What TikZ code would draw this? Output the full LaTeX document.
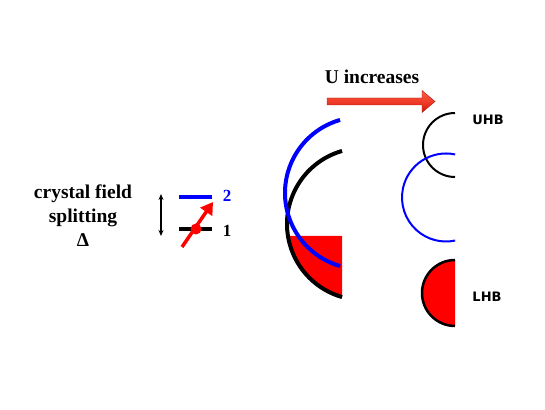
\documentclass[tikz,border=0pt]{standalone}
\usepackage{fontspec}
\setmainfont{Liberation Serif}
\newfontfamily\bandfont{DejaVu Sans}
\usetikzlibrary{arrows.meta}
\definecolor{arrowtop}{RGB}{245,95,70}
\definecolor{arrowmid}{RGB}{240,60,40}
\definecolor{arrowbot}{RGB}{205,25,15}
\tikzset{
  bigtext/.style={font=\bfseries\fontsize{19.5}{24}\selectfont},
  numtext/.style={font=\bfseries\fontsize{17}{20}\selectfont},
  bandtext/.style={font=\bandfont\bfseries\fontsize{13}{15}\selectfont},
  level/.style={line width=4pt},
  band/.style={line width=2pt}
}
\begin{document}
\begin{tikzpicture}[x=1pt,y=1pt]
  \useasboundingbox (0,0) rectangle (545,409);

  % 1. crystal field levels
  \node[bigtext, align=center] (cf) at (83,193) {crystal field\\splitting\\Δ};
  \coordinate (dtop) at (161,215);
  \coordinate (dbot) at (161,173);
  \draw[{Stealth[length=6pt,width=5pt]}-{Stealth[length=6pt,width=5pt]}, line width=1.1pt] (dtop) -- (dbot);

  \coordinate (up l) at (179,212);
  \coordinate (up r) at (212,212);
  \coordinate (lo l) at (179,180);
  \coordinate (lo r) at (212,180);
  \draw[level, blue] (up l) -- (up r);
  \draw[level] (lo l) -- (lo r);
  \node[numtext, blue] (two) at (227,213) {2};
  \node[numtext] (one) at (227,178) {1};

  \coordinate (etail) at (182,162);
  \coordinate (ehead) at (213,207);
  \draw[red, line width=3.5pt, -{Triangle[length=12pt,width=14pt]}] (etail) -- (ehead);
  \fill[red] (196,180) circle (5.5);

  % 2. U increases
  \node[bigtext] (uinc) at (372,332) {U increases};
  \shade[top color=arrowtop, bottom color=arrowbot, middle color=arrowmid, draw=arrowbot!85!black, line width=0.4pt]
    (327,304) -- (422,304) -- (422,296.5) -- (435,307.5) -- (422,318.5) -- (422,311) -- (327,311) -- cycle;

  % 3. bands
  \coordinate (kc) at (363,185);
  \coordinate (bc) at (361,216);
  \fill[red] (342,173) -- (342,112) arc[start angle=254, end angle=189.1, radius=76] -- cycle;
  \draw[level] (kc) ++(106:76) arc[start angle=106, end angle=254, radius=76];
  \draw[level, blue] (bc) ++(106:76) arc[start angle=106, end angle=254, radius=76];

  \coordinate (uc) at (455,264);
  \coordinate (mc) at (446,211.5);
  \coordinate (lc) at (455,116);
  \draw[band] (uc) ++(90:32) arc[start angle=90, end angle=270, radius=32];
  \draw[band, blue] (mc) ++(78:44) arc[start angle=78, end angle=282, radius=44];
  \fill[red] (lc) ++(90:33) arc[start angle=90, end angle=270, radius=33] -- cycle;
  \draw[line width=2.5pt] (lc) ++(90:33) arc[start angle=90, end angle=270, radius=33];

  \node[bandtext] (uhb) at (488,289) {UHB};
  \node[bandtext] (lhb) at (487,112) {LHB};
\end{tikzpicture}
\end{document}
